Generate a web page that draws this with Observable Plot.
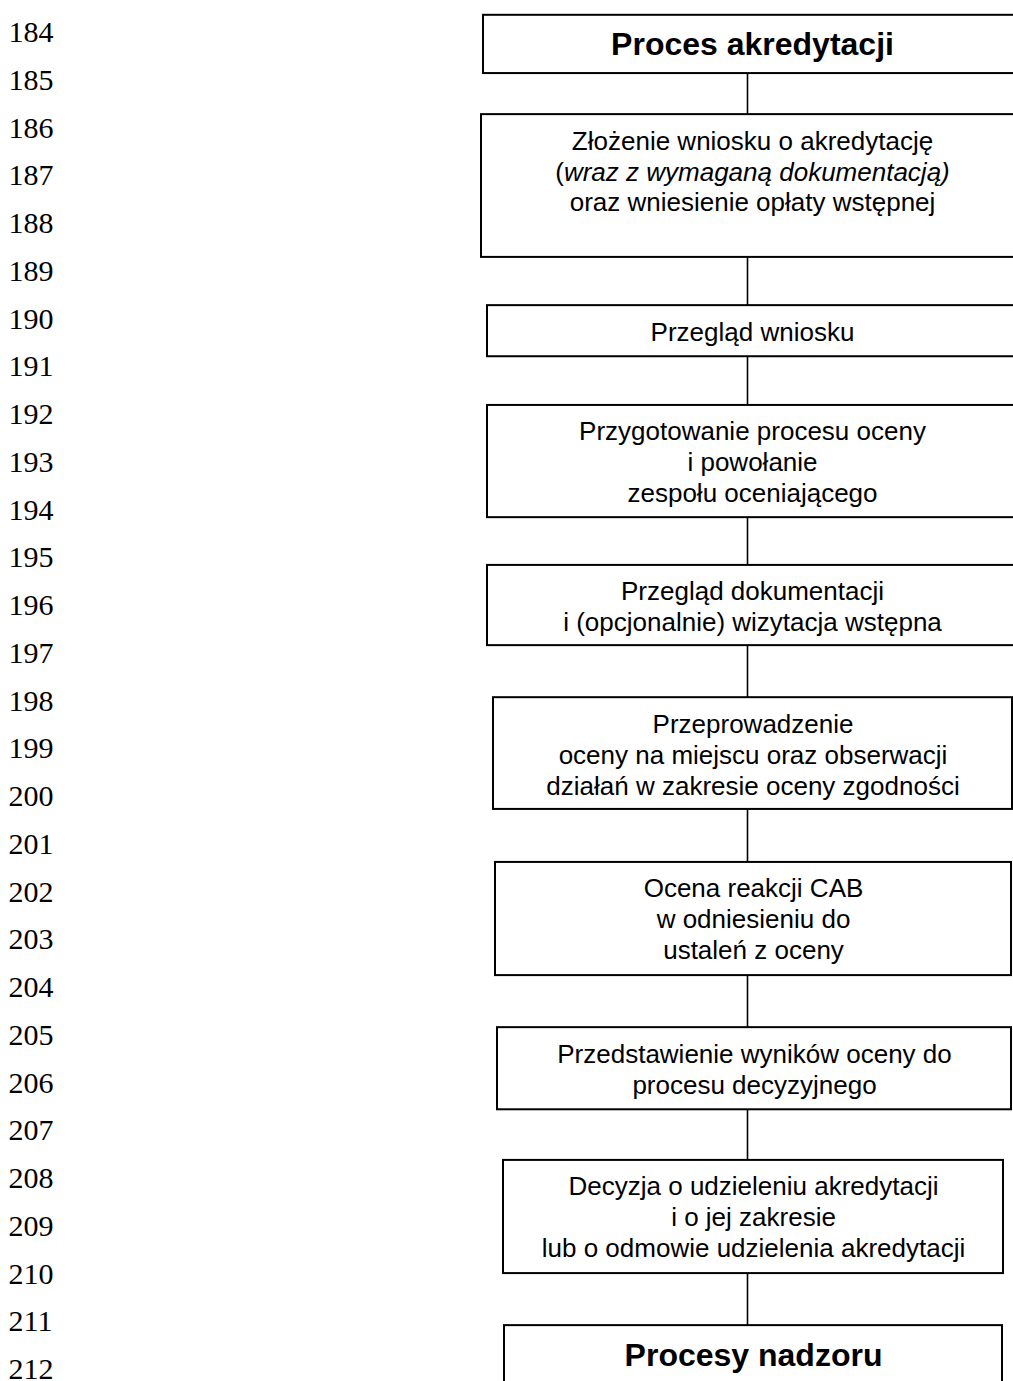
<!DOCTYPE html>
<html>
<head>
<meta charset="utf-8">
<script src="https://cdn.jsdelivr.net/npm/d3@7"></script>
<script src="https://cdn.jsdelivr.net/npm/@observablehq/plot@0.6"></script>
<style>
  html, body { margin: 0; padding: 0; background: #fff; overflow: hidden; }
  #chart svg { display: block; }
</style>
</head>
<body>
<div id="chart"></div>
<script>
// Line numbers printed in the left margin (used as the vertical scale)
const lineNumbers = [184,185,186,187,188,189,190,191,192,193,194,195,196,197,198,199,200,201,202,203,204,205,206,207,208,209,210,211,212];

// Flowchart steps
const stepLabels = [
  "Proces akredytacji",
  "Złożenie wniosku o akredytację\n(wraz z wymaganą dokumentacją)\noraz wniesienie opłaty wstępnej",
  "Przegląd wniosku",
  "Przygotowanie procesu oceny\ni powołanie\nzespołu oceniającego",
  "Przegląd dokumentacji\ni (opcjonalnie) wizytacja wstępna",
  "Przeprowadzenie\noceny na miejscu oraz obserwacji\ndziałań w zakresie oceny zgodności",
  "Ocena reakcji CAB\nw odniesieniu do\nustaleń z oceny",
  "Przedstawienie wyników oceny do\nprocesu decyzyjnego",
  "Decyzja o udzieleniu akredytacji\ni o jej zakresie\nlub o odmowie udzielenia akredytacji",
  "Procesy nadzoru"
];
const stepIsHeading = [true, false, false, false, false, false, false, false, false, true];

// Box extents, vertical in line-number units, horizontal in page units
const boxTop    = [183.64, 185.72, 189.72, 191.81, 195.16, 197.93, 201.38, 204.84, 207.62, 211.08];
const boxBottom = [184.86, 188.71, 190.79, 194.16, 196.84, 200.27, 203.75, 206.56, 209.99, 213.00];
const boxLeft   = [483, 481, 487, 487, 487, 493, 495, 497, 503, 504];
const boxRight  = [1021, 1023, 1017, 1017, 1017, 1012, 1011, 1011, 1003, 1002];
const spineX = 747;

const boxes = stepLabels.map((label, i) => ({
  label, heading: stepIsHeading[i],
  top: boxTop[i], bottom: boxBottom[i], left: boxLeft[i], right: boxRight[i]
}));
const connectors = boxes.slice(1).map((b, i) => ({x: spineX, y1: boxes[i].bottom, y2: b.top}));

const sans = "'Liberation Sans', Arial, Helvetica, sans-serif";
const serif = "'Liberation Serif', 'Times New Roman', serif";

const chart = Plot.plot({
  width: 1013,
  height: 1381,
  margin: 0,
  style: {background: "#fff", overflow: "hidden"},
  x: {domain: [0, 1013], range: [0, 1013], axis: null},
  y: {domain: [183.33, 212.25], range: [0, 1381], axis: null},
  marks: [
    Plot.ruleX(connectors, {x: "x", y1: "y1", y2: "y2", stroke: "#000", strokeWidth: 1.6}),
    Plot.rect(boxes, {x1: "left", x2: "right", y1: "top", y2: "bottom", fill: "#fff", stroke: "#000", strokeWidth: 2}),
    Plot.text(boxes.filter(d => !d.heading), {
      x: d => (d.left + d.right) / 2, y: "top", text: "label",
      lineAnchor: "top", dy: 13, lineHeight: 1.19,
      fontSize: 26, fontFamily: sans, fill: "#000"
    }),
    Plot.text(boxes.filter(d => d.heading), {
      x: d => (d.left + d.right) / 2, y: "top", text: "label",
      lineAnchor: "top", dy: 13, lineHeight: 1.19,
      fontSize: 32, fontWeight: "bold", fontFamily: sans, fill: "#000"
    }),
    Plot.text(lineNumbers, {
      y: d => d, text: d => String(d), frameAnchor: "left", dx: 8,
      textAnchor: "start", fontSize: 30, fontFamily: serif, fill: "#000"
    })
  ]
});

document.getElementById("chart").appendChild(chart);

// Mixed styling on the second line of step 2: "(" upright, the rest italic
const italicLine = "(wraz z wymaganą dokumentacją)";
d3.select(chart).selectAll("tspan").each(function () {
  if (this.textContent === italicLine) {
    const t = d3.select(this);
    t.text(null);
    t.append("tspan").text("(");
    t.append("tspan").attr("font-style", "italic").text(italicLine.slice(1));
  }
});
</script>
</body>
</html>
